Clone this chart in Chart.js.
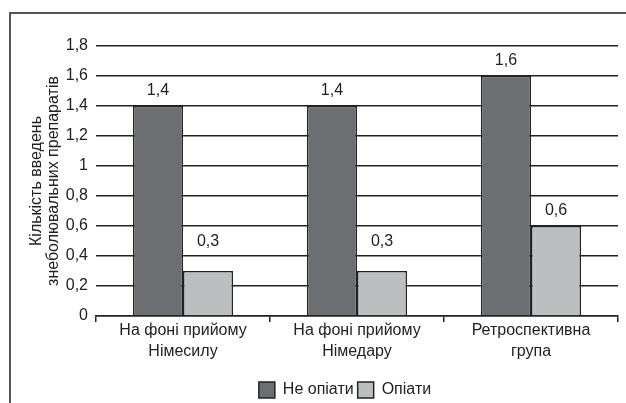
<!DOCTYPE html>
<html>
<head>
<meta charset="utf-8">
<script src="https://cdn.jsdelivr.net/npm/chart.js@4"></script>
<style>
  html, body { margin: 0; padding: 0; background: #fff; overflow: hidden; }
  #wrap { position: relative; width: 626px; height: 403px; }
  #frame { position: absolute; left: 9px; top: 12px; width: 700px; height: 500px; border: 2px solid #555; box-sizing: border-box; }
  canvas { position: absolute; left: 0; top: 0; }
</style>
</head>
<body>
<div id="wrap">
  <div id="frame"></div>
  <canvas id="chart" width="626" height="403"></canvas>
</div>
<script>
const groups = [["На фоні прийому", "Німесилу"], ["На фоні прийому", "Німедару"], ["Ретроспективна", "група"]];
const nonOpioids = [1.4, 1.4, 1.6];
const opioids = [0.3, 0.3, 0.6];
const yTicks = [0, 0.2, 0.4, 0.6, 0.8, 1, 1.2, 1.4, 1.6, 1.8];

const fmt = (v) => String(v).replace(".", ",");
const font = "'Liberation Sans', Arial, sans-serif";

// value captions above each bar
const barLabels = {
  id: "barLabels",
  afterDatasetsDraw(chart) {
    const ctx = chart.ctx;
    ctx.save();
    ctx.font = "16px " + font;
    ctx.fillStyle = "#222";
    ctx.textAlign = "center";
    ctx.textBaseline = "bottom";
    chart.data.datasets.forEach((ds, i) => {
      chart.getDatasetMeta(i).data.forEach((bar, j) => {
        const lift = ds.data[j] < 0.5 ? 21 : 7;
        ctx.fillText(fmt(ds.data[j]), bar.x, bar.y - lift);
      });
    });
    ctx.restore();
  }
};

// nudge the legend a little right and down, under the plot
const legendShift = {
  id: "legendShift",
  afterLayout(chart) {
    const lg = chart.legend;
    lg.left += 22; lg.right += 22;
    lg.top += 5; lg.bottom += 5;
  }
};

new Chart(document.getElementById("chart"), {
  type: "bar",
  data: {
    labels: groups,
    datasets: [
      { label: "Не опіати", data: nonOpioids, backgroundColor: "#6d6e71", borderColor: "#222", borderWidth: 1.5 },
      { label: "Опіати", data: opioids, backgroundColor: "#bcbec0", borderColor: "#222", borderWidth: 1.5 }
    ]
  },
  options: {
    responsive: false,
    animation: false,
    layout: { padding: { left: 28, right: 8, top: 46, bottom: 0 } },
    datasets: { bar: { barPercentage: 1, categoryPercentage: 0.575 } },
    plugins: {
      tooltip: { enabled: false },
      legend: {
        position: "bottom",
        labels: {
          color: "#222",
          font: { family: font, size: 16 },
          boxWidth: 16,
          boxHeight: 16,
          padding: 4
        }
      }
    },
    scales: {
      x: {
        afterFit(axis) { axis.height = 57; },
        grid: { drawOnChartArea: false, offset: true, tickLength: 6, color: "#222", lineWidth: 1.5 },
        border: { color: "#222", width: 1.5 },
        ticks: { color: "#222", font: { family: font, size: 16, lineHeight: 1.3 }, padding: -2, maxRotation: 0 }
      },
      y: {
        min: 0,
        max: 1.8,
        afterBuildTicks(axis) { axis.ticks = yTicks.map((v) => ({ value: v })); },
        afterFit(axis) { axis.width = 68; },
        grid: { color: "#222", lineWidth: 1.5, drawTicks: false },
        border: { display: false },
        ticks: { color: "#222", font: { family: font, size: 16 }, padding: 8, callback: (v) => fmt(v) },
        title: {
          display: true,
          text: ["Кількість введень", "знеболювальних препаратів"],
          color: "#222",
          font: { family: font, size: 16, lineHeight: 1.05 },
          padding: 0
        }
      }
    }
  },
  plugins: [barLabels, legendShift]
});
</script>
</body>
</html>
